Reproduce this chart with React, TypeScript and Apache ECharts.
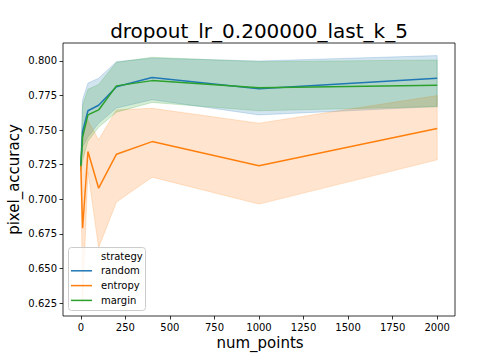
import React, { useEffect, useRef } from "react";
import * as echarts from "echarts";

const numPoints = [0, 10, 40, 100, 200, 400, 1000, 2000];

const randomMean = [0.725, 0.749, 0.764, 0.768, 0.7814, 0.788, 0.78, 0.7875];
const randomLow = [0.721, 0.738, 0.745, 0.755, 0.766, 0.772, 0.761, 0.767];
const randomHigh = [0.729, 0.772, 0.784, 0.7875, 0.7995, 0.802, 0.8, 0.8039];

const entropyMean = [0.725, 0.679, 0.7345, 0.708, 0.7326, 0.7417, 0.7243, 0.7511];
const entropyLow = [0.722, 0.625, 0.72, 0.665, 0.698, 0.716, 0.6965, 0.7285];
const entropyHigh = [0.728, 0.748, 0.757, 0.743, 0.7646, 0.7658, 0.755, 0.775];

const marginMean = [0.724, 0.745, 0.761, 0.7646, 0.782, 0.7858, 0.7807, 0.7824];
const marginLow = [0.72, 0.728, 0.742, 0.752, 0.763, 0.77, 0.764, 0.767];
const marginHigh = [0.728, 0.768, 0.7795, 0.783, 0.799, 0.8027, 0.7995, 0.8007];

const xTicks = [0, 250, 500, 750, 1000, 1250, 1500, 1750, 2000];
const yTicks = [0.625, 0.65, 0.675, 0.7, 0.725, 0.75, 0.775, 0.8];

const strategies = ["random", "entropy", "margin"];
const colors = ["#1f77b4", "#ff7f0e", "#2ca02c"];
const bandColors = ["rgba(31,119,180,0.2)", "rgba(255,127,14,0.2)", "rgba(44,160,44,0.2)"];

const FONT = "DejaVu Sans";

export default function App() {
  const ref = useRef<HTMLDivElement>(null);
  useEffect(() => {
    if (!ref.current) return;
    const chart = echarts.init(ref.current, undefined, { renderer: "svg" });
    const means = [randomMean, entropyMean, marginMean];
    const lows = [randomLow, entropyLow, marginLow];
    const highs = [randomHigh, entropyHigh, marginHigh];

    const series: any[] = [];
    strategies.forEach((name, s) => {
      series.push({
        type: "line",
        name,
        data: numPoints.map((x, i) => [x, means[s][i]]),
        showSymbol: false,
        symbol: "none",
        lineStyle: { color: colors[s], width: 1.5 },
        itemStyle: { color: colors[s] },
        silent: true,
      });
      series.push({
        type: "custom",
        name: name + "_ci",
        silent: true,
        data: numPoints.map((x, i) => [x, lows[s][i], highs[s][i]]),
        encode: { x: 0, y: [1, 2] },
        renderItem: (params: any, api: any) => {
          if (params.dataIndex !== 0) return null;
          const pts: number[][] = [];
          for (let i = 0; i < numPoints.length; i++) pts.push(api.coord([numPoints[i], highs[s][i]]));
          for (let i = numPoints.length - 1; i >= 0; i--) pts.push(api.coord([numPoints[i], lows[s][i]]));
          return {
            type: "polygon",
            shape: { points: pts },
            style: { fill: bandColors[s], stroke: bandColors[s], lineWidth: 1 },
          };
        },
      });
    });

    const legendRows = [256, 270.8, 285.6, 300.4];
    const legendChildren: any[] = [
      {
        type: "rect",
        shape: { x: 68.5, y: 247.5, width: 77, height: 63, r: 3 },
        style: { fill: "rgba(255,255,255,0.8)", stroke: "#cccccc", lineWidth: 1 },
        z: 100,
      },
      {
        type: "text",
        x: 101,
        y: legendRows[0],
        style: { text: "strategy", font: `10px "${FONT}"`, fill: "#000", textAlign: "left", textVerticalAlign: "middle" },
        z: 101,
      },
    ];
    strategies.forEach((name, s) => {
      legendChildren.push({
        type: "line",
        shape: { x1: 71, y1: legendRows[s + 1], x2: 92, y2: legendRows[s + 1] },
        style: { stroke: colors[s], lineWidth: 1.5 },
        z: 101,
      });
      legendChildren.push({
        type: "text",
        x: 101,
        y: legendRows[s + 1],
        style: { text: name, font: `10px "${FONT}"`, fill: "#000", textAlign: "left", textVerticalAlign: "middle" },
        z: 101,
      });
    });

    chart.setOption({
      animation: false,
      backgroundColor: "#fff",
      textStyle: { fontFamily: FONT },
      grid: {
        left: 63,
        right: 49,
        top: 43,
        bottom: 44,
        show: true,
        borderColor: "#000",
        borderWidth: 0.8,
        backgroundColor: "transparent",
        containLabel: false,
      },
      xAxis: {
        type: "value",
        min: -100,
        max: 2100,
        splitLine: { show: false },
        axisLine: { show: false, onZero: false },
        axisTick: { show: true, length: 3.5, lineStyle: { color: "#000", width: 0.8 }, customValues: xTicks },
        axisLabel: {
          show: true,
          margin: 6,
          fontSize: 10,
          color: "#000",
          fontFamily: FONT,
          customValues: xTicks,
          formatter: (v: number) => String(v),
        },
      },
      yAxis: {
        type: "value",
        min: 0.6156,
        max: 0.813,
        splitLine: { show: false },
        axisLine: { show: false, onZero: false },
        axisTick: { show: true, length: 3.5, lineStyle: { color: "#000", width: 0.8 }, customValues: yTicks },
        axisLabel: {
          show: true,
          margin: 6,
          fontSize: 10,
          color: "#000",
          fontFamily: FONT,
          customValues: yTicks,
          formatter: (v: number) => v.toFixed(3),
        },
      },
      graphic: [
        {
          type: "text",
          x: 259,
          y: 31,
          style: {
            text: "dropout_lr_0.200000_last_k_5",
            font: `20px "${FONT}"`,
            fill: "#000",
            textAlign: "center",
            textVerticalAlign: "middle",
          },
        },
        {
          type: "text",
          x: 260,
          y: 343,
          style: { text: "num_points", font: `15px "${FONT}"`, fill: "#000", textAlign: "center", textVerticalAlign: "middle" },
        },
        {
          type: "text",
          x: 14,
          y: 179.5,
          rotation: Math.PI / 2,
          style: { text: "pixel_accuracy", font: `15px "${FONT}"`, fill: "#000", textAlign: "center", textVerticalAlign: "middle" },
        },
        { type: "group", children: legendChildren, z: 100 },
      ],
      series,
    });
    return () => chart.dispose();
  }, []);
  return <div ref={ref} style={{ position: "fixed", left: 0, top: 0, width: 504, height: 360 }} />;
}
